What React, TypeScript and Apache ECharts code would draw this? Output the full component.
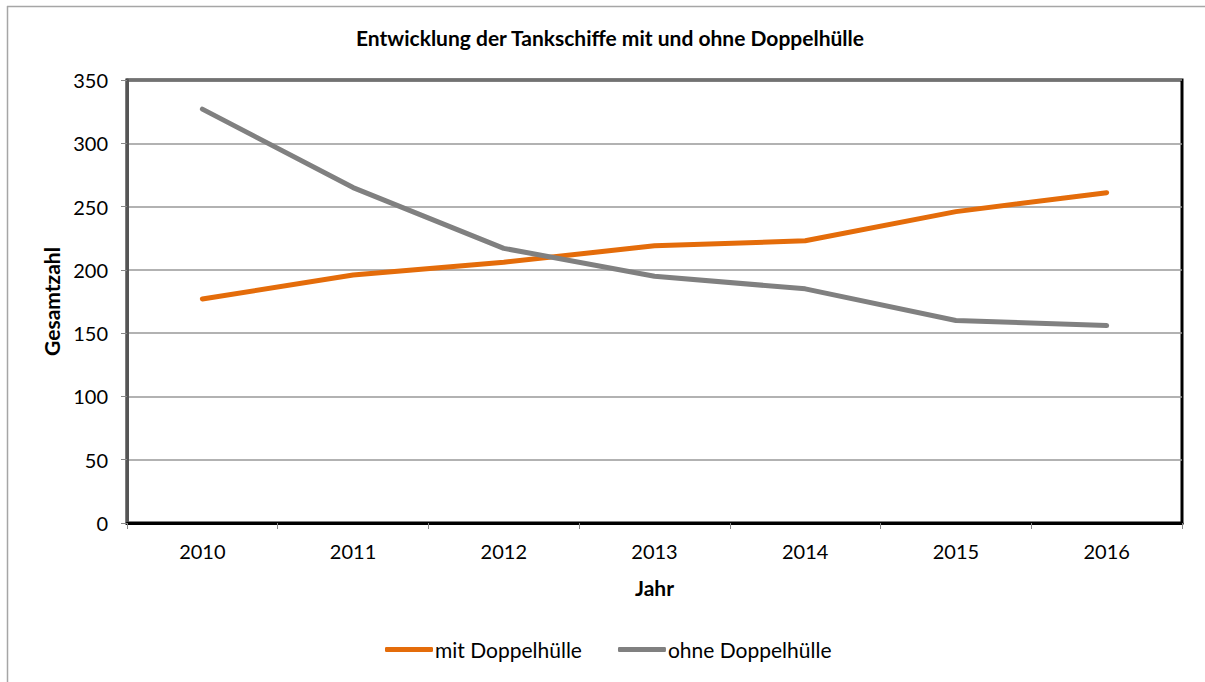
import React, { useEffect, useRef } from "react";
import * as echarts from "echarts";

const years = ["2010", "2011", "2012", "2013", "2014", "2015", "2016"];
const mitDoppelhuelle = [177, 196, 206, 219, 223, 246, 261];
const ohneDoppelhuelle = [327, 265, 217, 195, 185, 160, 156];
const FONT = "Lato, 'Open Sans', sans-serif";

export default function App() {
  const ref = useRef<HTMLDivElement>(null);
  useEffect(() => {
    const chart = echarts.init(ref.current!, null, { renderer: "svg" });
    chart.setOption({
      animation: false,
      backgroundColor: "#ffffff",
      title: {
        text: "Entwicklung der Tankschiffe mit und ohne Doppelhülle",
        left: 605,
        textAlign: "center",
        top: 22,
        textStyle: { fontFamily: FONT, fontSize: 21, fontWeight: "bold", color: "#000" },
      },
      graphic: [
        { type: "line", shape: { x1: 7, y1: 6.5, x2: 1205, y2: 6.5 }, style: { stroke: "#a6a6a6", lineWidth: 1.5 } },
        { type: "line", shape: { x1: 7.5, y1: 6, x2: 7.5, y2: 682 }, style: { stroke: "#a6a6a6", lineWidth: 1.5 } },
      ],
      legend: {
        data: ["mit Doppelhülle", "ohne Doppelhülle"],
        left: 380,
        top: 634,
        icon: "roundRect",
        itemWidth: 48,
        itemHeight: 5,
        itemGap: 36,
        textStyle: { fontFamily: FONT, fontSize: 21, color: "#000", padding: [0, 0, 0, -3] },
      },
      grid: {
        left: 127,
        right: 23,
        top: 80,
        bottom: 159,
        show: true,
        borderColor: "#000",
        borderWidth: 3,
        containLabel: false,
      },
      xAxis: {
        type: "category",
        data: years,
        boundaryGap: true,
        name: "Jahr",
        nameLocation: "middle",
        nameGap: 54,
        nameTextStyle: { fontFamily: FONT, fontSize: 21, fontWeight: "bold", color: "#000" },
        axisLine: { lineStyle: { color: "#000", width: 3 } },
        axisTick: { show: true, length: 6, inside: false, lineStyle: { color: "#888", width: 1 } },
        axisLabel: { fontFamily: FONT, fontSize: 20, color: "#000", margin: 18 },
        splitLine: { show: false },
      },
      yAxis: {
        type: "value",
        min: 0,
        max: 350,
        interval: 50,
        name: "Gesamtzahl",
        nameLocation: "middle",
        nameGap: 65,
        nameTextStyle: { fontFamily: FONT, fontSize: 21, fontWeight: "bold", color: "#000" },
        axisLine: { show: true, lineStyle: { color: "#555", width: 3 } },
        axisTick: { show: true, length: 6, lineStyle: { color: "#888", width: 1 } },
        axisLabel: { fontFamily: FONT, fontSize: 20, color: "#000", margin: 19 },
        splitLine: { show: true, lineStyle: { color: "#999", width: 1.5 } },
      },
      series: [
        {
          name: "mit Doppelhülle",
          type: "line",
          data: mitDoppelhuelle,
          showSymbol: false,
          symbol: "none",
          color: "#E46C0A",
          lineStyle: { color: "#E46C0A", width: 5, cap: "round", join: "round" },
        },
        {
          name: "ohne Doppelhülle",
          type: "line",
          data: ohneDoppelhuelle,
          showSymbol: false,
          symbol: "none",
          color: "#808080",
          lineStyle: { color: "#808080", width: 5, cap: "round", join: "round" },
        },
      ],
    });
    return () => chart.dispose();
  }, []);
  return (
    <div
      ref={ref}
      style={{ position: "absolute", left: 0, top: 0, width: 1205, height: 682 }}
    />
  );
}
